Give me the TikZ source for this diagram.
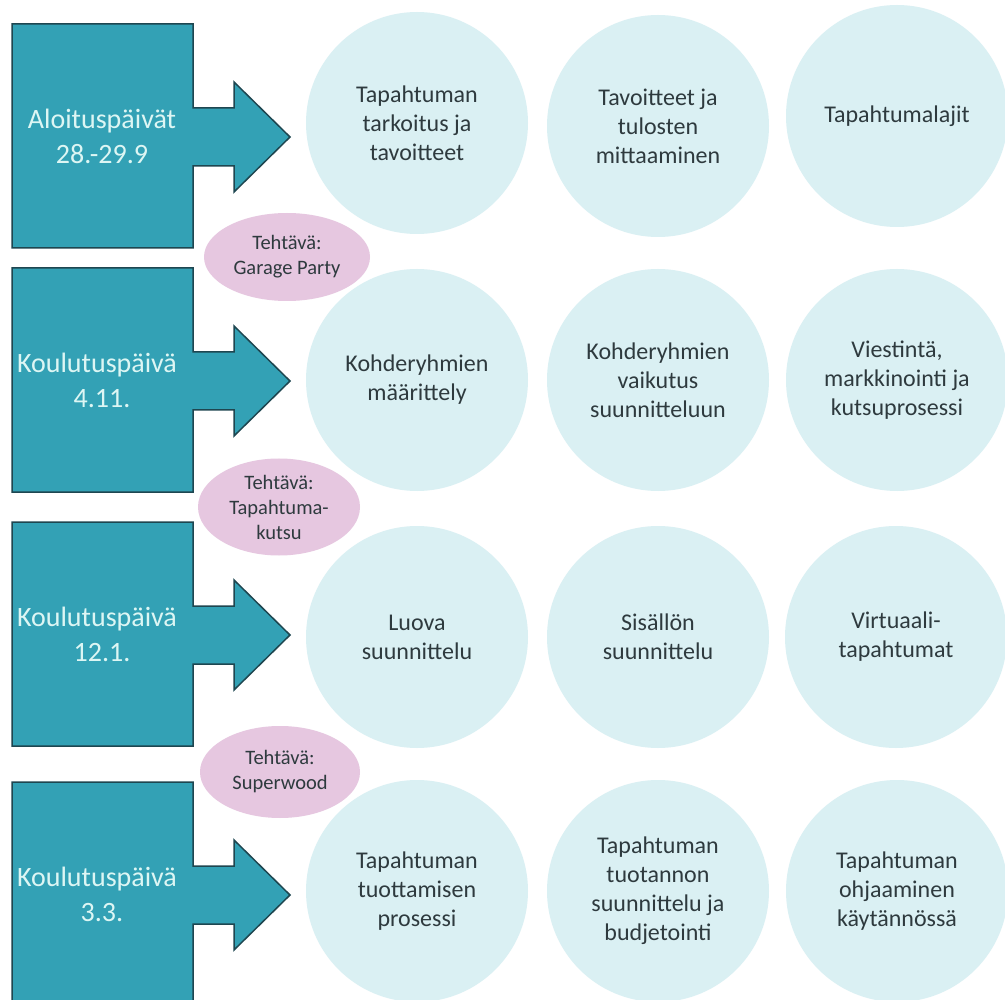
\documentclass[tikz,border=0pt]{standalone}
\usepackage{fontspec}
\setmainfont{Carlito}
\usetikzlibrary{shapes.geometric}

\definecolor{dayfill}{HTML}{33A1B5}
\definecolor{dayline}{HTML}{1E4650}
\definecolor{daytextc}{HTML}{DDF6F4}
\definecolor{topicfill}{HTML}{DAF0F3}
\definecolor{topictext}{HTML}{2E3A3E}
\definecolor{taskfill}{HTML}{E6C7E0}

\begin{document}
\begin{tikzpicture}[x=1pt, y=-1pt,
  dayshape/.style={fill=dayfill, draw=dayline, line width=1.5pt, line join=miter},
  daytext/.style={align=center, text=daytextc, font=\fontsize{28}{35}\selectfont},
  topic/.style={circle, fill=topicfill, minimum size=222pt, inner sep=2pt,
    align=center, text=topictext, font=\fontsize{24}{29}\selectfont},
  task/.style={ellipse, fill=taskfill, minimum width=166pt, minimum height=88pt,
    inner sep=0pt, align=center, text=topictext, font=\fontsize{20.5}{25}\selectfont}]
\clip (0,0) rectangle (1005,1000);
\fill[white] (0,0) rectangle (1005,1000);

% day blocks with their arrows
\foreach \ytop/\txt [count = \n] in {24/{Aloituspäivät\\28.-29.9},
    268/{\hspace*{-10pt}Koulutuspäivä\\4.11.}, 522/{\hspace*{-10pt}Koulutuspäivä\\12.1.},
    782/{\hspace*{-10pt}Koulutuspäivä\\3.3.}}{
  \draw[dayshape] (12,\ytop) -- (193,\ytop) -- (193,\ytop+84) -- (234,\ytop+84)
    -- (234,\ytop+58) -- (290,\ytop+113) -- (234,\ytop+168) -- (234,\ytop+142)
    -- (193,\ytop+142) -- (193,\ytop+224) -- (12,\ytop+224) -- cycle;
  \node[daytext] (day\n) at (102,\ytop+112) {\txt};
}

% topics
\foreach \cx/\cy/\txt [count = \n] in {
    417/123/{Tapahtuman\\tarkoitus ja\\tavoitteet},
    658/126/{Tavoitteet ja\\tulosten\\mittaaminen},
    897/116/{Tapahtumalajit},
    417/380/{Kohderyhmien\\määrittely},
    658/380/{Kohderyhmien\\vaikutus\\suunnitteluun},
    897/380/{Viestintä,\\markkinointi ja\\kutsuprosessi},
    417/637/{Luova\\suunnittelu},
    658/637/{Sisällön\\suunnittelu},
    896/637/{Virtuaali-\\tapahtumat},
    417/891/{Tapahtuman\\tuottamisen\\prosessi},
    658/891/{Tapahtuman\\tuotannon\\suunnittelu ja\\budjetointi},
    897/891/{Tapahtuman\\ohjaaminen\\käytännössä}}{
  \node[topic] (topic\n) at (\cx,\cy) {\txt};
}

% tasks between the days
\node[task] (task1) at (287,257) {Tehtävä:\\Garage Party};
\node[task, minimum width=162pt, minimum height=97pt] (task2) at (279,507) {Tehtävä:\\Tapahtuma-\\kutsu};
\node[task, minimum width=160pt, minimum height=92pt] (task3) at (280,772) {Tehtävä:\\Superwood};
\end{tikzpicture}
\end{document}
